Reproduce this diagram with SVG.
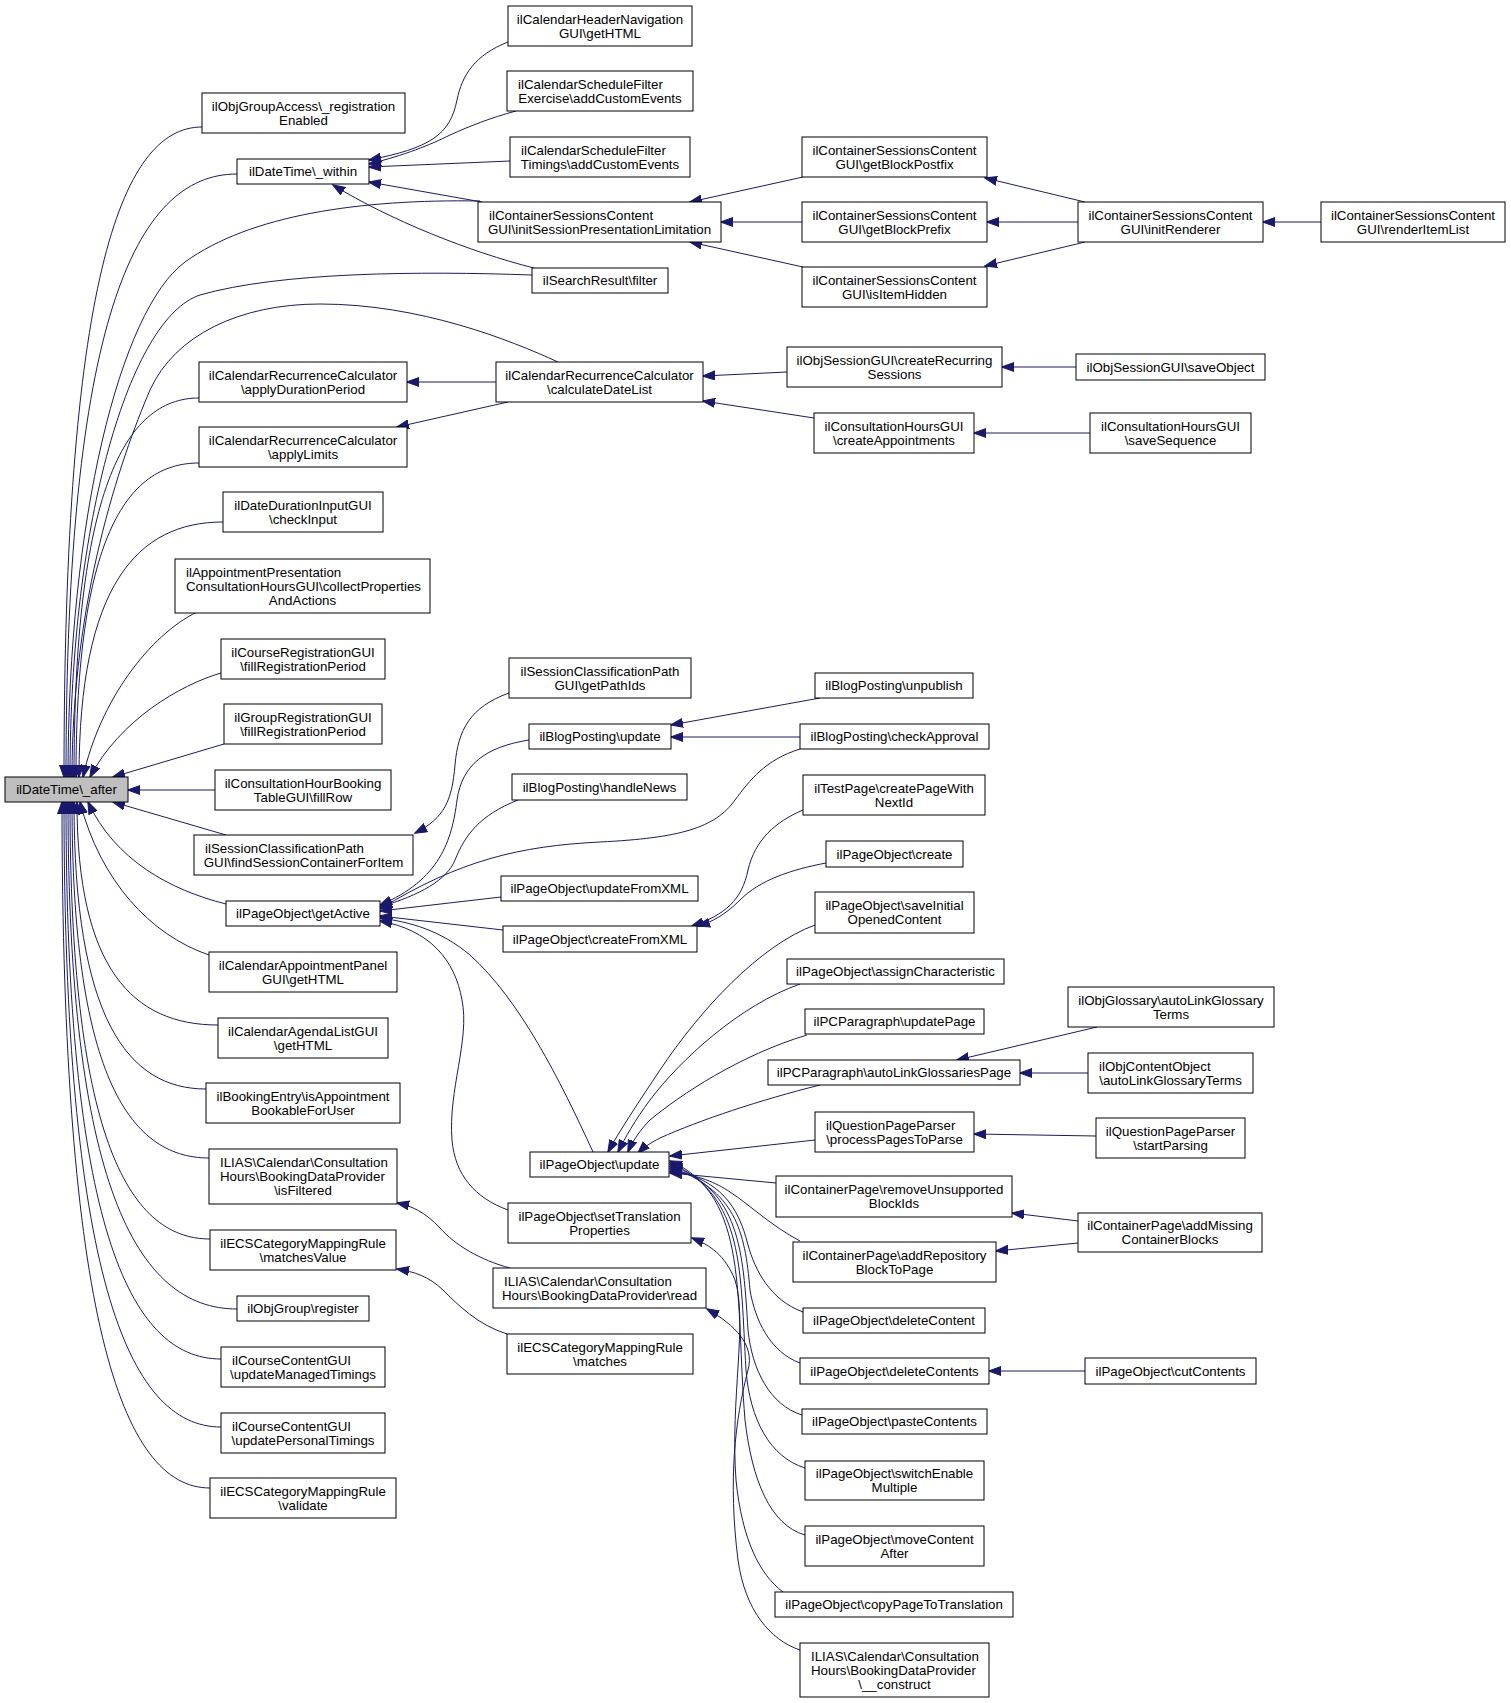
<svg xmlns="http://www.w3.org/2000/svg" width="1511" height="1703" viewBox="0 0 1511 1703">
<defs>
<marker id="arr" markerWidth="13" markerHeight="10" refX="12" refY="5" orient="auto" markerUnits="userSpaceOnUse"><path d="M0,0.5 L12.5,5 L0,9.5 Z" fill="#191970" stroke="#191970" stroke-width="1"/></marker>
</defs>
<style>
.n rect{fill:#ffffff;stroke:#000000;stroke-width:1}
.root rect{fill:#bfbfbf;stroke:#000000;stroke-width:1}
text{font-family:"Liberation Sans",Arial,Helvetica,sans-serif;font-size:13.3px;fill:#000000}
.c{text-anchor:middle}
#edges path{fill:none;stroke:#191970;stroke-width:1;marker-end:url(#arr)}
</style>
<rect x="0" y="0" width="1511" height="1703" fill="#ffffff"/>
<g id="edges">
<path d="M202,127 C119,127 64,289 64,777"/>
<path d="M237,174 C134,174 66,325 66,777"/>
<path d="M480,201 C360,199 250,215 185,262 C120,310 68,520 68,777"/>
<path d="M532,275 C420,271 280,272 200,295 C130,318 70,520 70,777"/>
<path d="M558,362 C510,340 420,304 320,304 C240,304 175,335 150,390 C120,460 72,600 72,777"/>
<path d="M199,398 C124,398 74,493 74,777"/>
<path d="M199,463 C125,463 76,541 76,777"/>
<path d="M223,522 C137,522 79,586 79,777"/>
<path d="M197,612 C150,635 100,700 83,777"/>
<path d="M221,673 C180,685 120,720 90,777"/>
<path d="M224,744 L113,777"/>
<path d="M215,790 L128,790"/>
<path d="M226,835 L113,802"/>
<path d="M226,904 C170,890 115,860 88,802"/>
<path d="M209,955 C150,935 100,880 80,802"/>
<path d="M218,1025 C133,1025 77,969 77,802"/>
<path d="M206,1089 C127,1089 74,1017 74,802"/>
<path d="M209,1158 C127,1158 72,1069 72,802"/>
<path d="M210,1239 C126,1239 70,1130 70,802"/>
<path d="M237,1309 C136,1309 68,1182 68,802"/>
<path d="M221,1359 C128,1359 66,1220 66,802"/>
<path d="M221,1427 C127,1427 64,1271 64,802"/>
<path d="M210,1488 C121,1488 62,1316 62,802"/>
<path d="M508,42 C475,55 462,75 457,100 C450,135 430,148 369,160"/>
<path d="M516,111 C490,118 470,126 450,135 C430,145 405,155 369,164"/>
<path d="M510,161 L369,167"/>
<path d="M482,202 L369,182"/>
<path d="M534,268 C470,252 390,220 333,185"/>
<path d="M803,177 L690,202"/>
<path d="M802,222 L721,222"/>
<path d="M803,267 L690,242"/>
<path d="M1085,202 L985,178"/>
<path d="M1078,222 L987,222"/>
<path d="M1085,242 L985,266"/>
<path d="M1321,222 L1263,222"/>
<path d="M496,382 L407,382"/>
<path d="M508,402 L397,427"/>
<path d="M787,372 L703,376"/>
<path d="M814,418 L703,401"/>
<path d="M1076,367 L1002,367"/>
<path d="M1090,433 L974,433"/>
<path d="M509,693 C470,707 458,730 455,765 C452,800 445,818 415,833"/>
<path d="M529,740 C485,747 462,765 457,800 C452,840 440,880 380,905"/>
<path d="M518,800 C480,815 465,835 455,860 C447,880 420,895 380,907"/>
<path d="M800,749 C765,760 750,780 735,800 C715,828 680,838 600,842 C520,846 460,860 380,909"/>
<path d="M501,897 L380,911"/>
<path d="M503,930 L380,916"/>
<path d="M593,1152 C560,1080 520,1000 470,955 C440,930 410,922 380,918"/>
<path d="M508,1210 C475,1198 455,1175 452,1140 C448,1090 470,1040 462,1000 C455,960 430,930 380,921"/>
<path d="M820,698 L671,725"/>
<path d="M800,737 L671,737"/>
<path d="M803,810 C775,822 755,840 748,870 C742,900 725,915 692,926"/>
<path d="M826,863 C790,870 760,880 740,900 C725,915 712,922 698,926"/>
<path d="M815,925 C760,945 700,1010 660,1070 C640,1100 620,1130 608,1152"/>
<path d="M800,984 C740,1005 680,1060 650,1100 C635,1120 625,1138 618,1152"/>
<path d="M807,1035 C740,1055 680,1095 650,1120 C640,1130 632,1142 628,1152"/>
<path d="M820,1085 C760,1100 700,1120 660,1138 C650,1143 643,1148 638,1153"/>
<path d="M815,1140 L670,1156"/>
<path d="M776,1183 L670,1173"/>
<path d="M800,1241 C770,1225 750,1205 730,1192 C715,1182 700,1176 670,1171"/>
<path d="M803,1312 C770,1300 755,1270 748,1245 C738,1205 720,1180 670,1169"/>
<path d="M800,1363 C770,1352 755,1320 750,1290 C745,1230 735,1190 670,1167"/>
<path d="M802,1415 C770,1405 752,1370 748,1330 C743,1250 740,1190 670,1165"/>
<path d="M805,1468 C770,1457 750,1420 746,1370 C740,1270 745,1195 670,1163"/>
<path d="M805,1535 C770,1525 752,1480 745,1420 C735,1300 750,1195 670,1161"/>
<path d="M783,1592 C760,1575 742,1540 736,1480 C730,1400 748,1320 735,1280 C725,1255 710,1245 692,1238"/>
<path d="M800,1650 C770,1640 745,1610 738,1560 C728,1480 735,1420 748,1370 C755,1345 735,1325 707,1309"/>
<path d="M510,1268 C480,1260 455,1245 440,1228 C425,1212 412,1206 397,1203"/>
<path d="M507,1334 C478,1325 458,1305 443,1290 C428,1276 415,1272 397,1269"/>
<path d="M1097,1027 L957,1060"/>
<path d="M1088,1073 L1020,1073"/>
<path d="M1096,1136 L974,1134"/>
<path d="M1078,1221 L1012,1213"/>
<path d="M1078,1243 L996,1251"/>
<path d="M1085,1371 L989,1371"/>
</g>
<g id="n_after" class="root"><rect x="5" y="777" width="123" height="25"/><text class="c" x="66.5" y="794">ilDateTime\_after</text></g>
<g id="n_a1" class="n"><rect x="202" y="93" width="203" height="40"/><text class="c" x="303.5" y="110.5">ilObjGroupAccess\_registration</text><text class="c" x="303.5" y="124.5">Enabled</text></g>
<g id="n_a2" class="n"><rect x="237" y="159" width="132" height="25"/><text class="c" x="303" y="176">ilDateTime\_within</text></g>
<g id="n_a3" class="n"><rect x="199" y="362" width="208" height="40"/><text class="c" x="303" y="379.5">ilCalendarRecurrenceCalculator</text><text class="c" x="303" y="393.5">\applyDurationPeriod</text></g>
<g id="n_a4" class="n"><rect x="199" y="427" width="208" height="40"/><text class="c" x="303" y="444.5">ilCalendarRecurrenceCalculator</text><text class="c" x="303" y="458.5">\applyLimits</text></g>
<g id="n_a5" class="n"><rect x="223" y="492" width="160" height="40"/><text class="c" x="303" y="509.5">ilDateDurationInputGUI</text><text class="c" x="303" y="523.5">\checkInput</text></g>
<g id="n_a6" class="n"><rect x="175" y="559" width="255" height="54"/><text x="186" y="576.5">ilAppointmentPresentation</text><text x="186" y="590.5">ConsultationHoursGUI\collectProperties</text><text class="c" x="302.5" y="604.5">AndActions</text></g>
<g id="n_a7" class="n"><rect x="221" y="639" width="164" height="40"/><text class="c" x="303" y="656.5">ilCourseRegistrationGUI</text><text class="c" x="303" y="670.5">\fillRegistrationPeriod</text></g>
<g id="n_a8" class="n"><rect x="224" y="704" width="158" height="40"/><text class="c" x="303" y="721.5">ilGroupRegistrationGUI</text><text class="c" x="303" y="735.5">\fillRegistrationPeriod</text></g>
<g id="n_a9" class="n"><rect x="215" y="770" width="176" height="40"/><text class="c" x="303" y="787.5">ilConsultationHourBooking</text><text class="c" x="303" y="801.5">TableGUI\fillRow</text></g>
<g id="n_a10" class="n"><rect x="194" y="835" width="219" height="40"/><text x="205" y="852.5">ilSessionClassificationPath</text><text class="c" x="303.5" y="866.5">GUI\findSessionContainerForItem</text></g>
<g id="n_a11" class="n"><rect x="226" y="901" width="154" height="25"/><text class="c" x="303" y="918">ilPageObject\getActive</text></g>
<g id="n_a12" class="n"><rect x="209" y="952" width="188" height="40"/><text class="c" x="303" y="969.5">ilCalendarAppointmentPanel</text><text class="c" x="303" y="983.5">GUI\getHTML</text></g>
<g id="n_a13" class="n"><rect x="218" y="1018" width="170" height="40"/><text class="c" x="303" y="1035.5">ilCalendarAgendaListGUI</text><text class="c" x="303" y="1049.5">\getHTML</text></g>
<g id="n_a14" class="n"><rect x="206" y="1083" width="194" height="40"/><text class="c" x="303" y="1100.5">ilBookingEntry\isAppointment</text><text class="c" x="303" y="1114.5">BookableForUser</text></g>
<g id="n_a15" class="n"><rect x="209" y="1149" width="188" height="55"/><text x="220" y="1167">ILIAS\Calendar\Consultation</text><text x="220" y="1181">Hours\BookingDataProvider</text><text class="c" x="303" y="1195">\isFiltered</text></g>
<g id="n_a16" class="n"><rect x="210" y="1230" width="186" height="40"/><text class="c" x="303" y="1247.5">ilECSCategoryMappingRule</text><text class="c" x="303" y="1261.5">\matchesValue</text></g>
<g id="n_a17" class="n"><rect x="237" y="1296" width="132" height="25"/><text class="c" x="303" y="1313">ilObjGroup\register</text></g>
<g id="n_a18" class="n"><rect x="221" y="1347" width="164" height="40"/><text x="232" y="1364.5">ilCourseContentGUI</text><text class="c" x="303" y="1378.5">\updateManagedTimings</text></g>
<g id="n_a19" class="n"><rect x="221" y="1413" width="164" height="40"/><text x="232" y="1430.5">ilCourseContentGUI</text><text class="c" x="303" y="1444.5">\updatePersonalTimings</text></g>
<g id="n_a20" class="n"><rect x="210" y="1478" width="186" height="40"/><text class="c" x="303" y="1495.5">ilECSCategoryMappingRule</text><text class="c" x="303" y="1509.5">\validate</text></g>
<g id="n_b1" class="n"><rect x="508" y="6" width="184" height="40"/><text class="c" x="600" y="23.5">ilCalendarHeaderNavigation</text><text class="c" x="600" y="37.5">GUI\getHTML</text></g>
<g id="n_b2" class="n"><rect x="507" y="71" width="186" height="40"/><text x="518" y="88.5">ilCalendarScheduleFilter</text><text class="c" x="600" y="102.5">Exercise\addCustomEvents</text></g>
<g id="n_b3" class="n"><rect x="510" y="137" width="180" height="40"/><text x="521" y="154.5">ilCalendarScheduleFilter</text><text class="c" x="600" y="168.5">Timings\addCustomEvents</text></g>
<g id="n_b4" class="n"><rect x="478" y="202" width="243" height="40"/><text x="489" y="219.5">ilContainerSessionsContent</text><text class="c" x="599.5" y="233.5">GUI\initSessionPresentationLimitation</text></g>
<g id="n_b5" class="n"><rect x="532" y="268" width="136" height="25"/><text class="c" x="600" y="285">ilSearchResult\filter</text></g>
<g id="n_b6" class="n"><rect x="496" y="362" width="207" height="40"/><text class="c" x="599.5" y="379.5">ilCalendarRecurrenceCalculator</text><text class="c" x="599.5" y="393.5">\calculateDateList</text></g>
<g id="n_b7" class="n"><rect x="509" y="658" width="182" height="40"/><text class="c" x="600" y="675.5">ilSessionClassificationPath</text><text class="c" x="600" y="689.5">GUI\getPathIds</text></g>
<g id="n_b8" class="n"><rect x="529" y="724" width="142" height="25"/><text class="c" x="600" y="741">ilBlogPosting\update</text></g>
<g id="n_b9" class="n"><rect x="512" y="774" width="175" height="26"/><text class="c" x="599.5" y="791.5">ilBlogPosting\handleNews</text></g>
<g id="n_b10" class="n"><rect x="501" y="876" width="197" height="25"/><text class="c" x="599.5" y="893">ilPageObject\updateFromXML</text></g>
<g id="n_b11" class="n"><rect x="503" y="926" width="194" height="26"/><text class="c" x="600" y="943.5">ilPageObject\createFromXML</text></g>
<g id="n_b12" class="n"><rect x="530" y="1152" width="139" height="25"/><text class="c" x="599.5" y="1169">ilPageObject\update</text></g>
<g id="n_b13" class="n"><rect x="508" y="1203" width="183" height="40"/><text class="c" x="599.5" y="1220.5">ilPageObject\setTranslation</text><text class="c" x="599.5" y="1234.5">Properties</text></g>
<g id="n_b14" class="n"><rect x="493" y="1268" width="213" height="40"/><text x="504" y="1285.5">ILIAS\Calendar\Consultation</text><text class="c" x="599.5" y="1299.5">Hours\BookingDataProvider\read</text></g>
<g id="n_b15" class="n"><rect x="507" y="1334" width="186" height="40"/><text class="c" x="600" y="1351.5">ilECSCategoryMappingRule</text><text class="c" x="600" y="1365.5">\matches</text></g>
<g id="n_c1" class="n"><rect x="802" y="137" width="185" height="40"/><text class="c" x="894.5" y="154.5">ilContainerSessionsContent</text><text class="c" x="894.5" y="168.5">GUI\getBlockPostfix</text></g>
<g id="n_c2" class="n"><rect x="802" y="202" width="185" height="40"/><text class="c" x="894.5" y="219.5">ilContainerSessionsContent</text><text class="c" x="894.5" y="233.5">GUI\getBlockPrefix</text></g>
<g id="n_c3" class="n"><rect x="802" y="267" width="185" height="40"/><text class="c" x="894.5" y="284.5">ilContainerSessionsContent</text><text class="c" x="894.5" y="298.5">GUI\isItemHidden</text></g>
<g id="n_c4" class="n"><rect x="787" y="347" width="215" height="40"/><text class="c" x="894.5" y="364.5">ilObjSessionGUI\createRecurring</text><text class="c" x="894.5" y="378.5">Sessions</text></g>
<g id="n_c5" class="n"><rect x="814" y="413" width="160" height="40"/><text class="c" x="894" y="430.5">ilConsultationHoursGUI</text><text class="c" x="894" y="444.5">\createAppointments</text></g>
<g id="n_c6" class="n"><rect x="815" y="673" width="158" height="25"/><text class="c" x="894" y="690">ilBlogPosting\unpublish</text></g>
<g id="n_c7" class="n"><rect x="800" y="724" width="189" height="25"/><text class="c" x="894.5" y="741">ilBlogPosting\checkApproval</text></g>
<g id="n_c8" class="n"><rect x="803" y="775" width="182" height="40"/><text class="c" x="894" y="792.5">ilTestPage\createPageWith</text><text class="c" x="894" y="806.5">NextId</text></g>
<g id="n_c9" class="n"><rect x="826" y="841" width="137" height="26"/><text class="c" x="894.5" y="858.5">ilPageObject\create</text></g>
<g id="n_c10" class="n"><rect x="815" y="892" width="159" height="41"/><text class="c" x="894.5" y="910">ilPageObject\saveInitial</text><text class="c" x="894.5" y="924">OpenedContent</text></g>
<g id="n_c11" class="n"><rect x="787" y="959" width="217" height="25"/><text class="c" x="895.5" y="976">ilPageObject\assignCharacteristic</text></g>
<g id="n_c12" class="n"><rect x="805" y="1009" width="179" height="25"/><text class="c" x="894.5" y="1026">ilPCParagraph\updatePage</text></g>
<g id="n_c13" class="n"><rect x="768" y="1060" width="252" height="25"/><text class="c" x="894" y="1077">ilPCParagraph\autoLinkGlossariesPage</text></g>
<g id="n_c14" class="n"><rect x="815" y="1112" width="159" height="40"/><text x="826" y="1129.5">ilQuestionPageParser</text><text class="c" x="894.5" y="1143.5">\processPagesToParse</text></g>
<g id="n_c15" class="n"><rect x="776" y="1176" width="236" height="41"/><text class="c" x="894" y="1194">ilContainerPage\removeUnsupported</text><text class="c" x="894" y="1208">BlockIds</text></g>
<g id="n_c16" class="n"><rect x="793" y="1242" width="203" height="40"/><text class="c" x="894.5" y="1259.5">ilContainerPage\addRepository</text><text class="c" x="894.5" y="1273.5">BlockToPage</text></g>
<g id="n_c17" class="n"><rect x="803" y="1308" width="182" height="25"/><text class="c" x="894" y="1325">ilPageObject\deleteContent</text></g>
<g id="n_c18" class="n"><rect x="800" y="1358" width="189" height="26"/><text class="c" x="894.5" y="1375.5">ilPageObject\deleteContents</text></g>
<g id="n_c19" class="n"><rect x="802" y="1409" width="185" height="25"/><text class="c" x="894.5" y="1426">ilPageObject\pasteContents</text></g>
<g id="n_c20" class="n"><rect x="805" y="1461" width="179" height="39"/><text class="c" x="894.5" y="1478">ilPageObject\switchEnable</text><text class="c" x="894.5" y="1492">Multiple</text></g>
<g id="n_c21" class="n"><rect x="805" y="1526" width="179" height="40"/><text class="c" x="894.5" y="1543.5">ilPageObject\moveContent</text><text class="c" x="894.5" y="1557.5">After</text></g>
<g id="n_c22" class="n"><rect x="775" y="1592" width="238" height="25"/><text class="c" x="894" y="1609">ilPageObject\copyPageToTranslation</text></g>
<g id="n_c23" class="n"><rect x="800" y="1643" width="189" height="54"/><text x="811" y="1660.5">ILIAS\Calendar\Consultation</text><text x="811" y="1674.5">Hours\BookingDataProvider</text><text class="c" x="894.5" y="1688.5">\__construct</text></g>
<g id="n_d1" class="n"><rect x="1078" y="202" width="185" height="40"/><text class="c" x="1170.5" y="219.5">ilContainerSessionsContent</text><text class="c" x="1170.5" y="233.5">GUI\initRenderer</text></g>
<g id="n_d2" class="n"><rect x="1076" y="354" width="189" height="26"/><text class="c" x="1170.5" y="371.5">ilObjSessionGUI\saveObject</text></g>
<g id="n_d3" class="n"><rect x="1090" y="413" width="161" height="40"/><text class="c" x="1170.5" y="430.5">ilConsultationHoursGUI</text><text class="c" x="1170.5" y="444.5">\saveSequence</text></g>
<g id="n_d4" class="n"><rect x="1068" y="987" width="206" height="40"/><text class="c" x="1171" y="1004.5">ilObjGlossary\autoLinkGlossary</text><text class="c" x="1171" y="1018.5">Terms</text></g>
<g id="n_d5" class="n"><rect x="1088" y="1053" width="165" height="40"/><text x="1099" y="1070.5">ilObjContentObject</text><text class="c" x="1170.5" y="1084.5">\autoLinkGlossaryTerms</text></g>
<g id="n_d6" class="n"><rect x="1096" y="1118" width="149" height="40"/><text class="c" x="1170.5" y="1135.5">ilQuestionPageParser</text><text class="c" x="1170.5" y="1149.5">\startParsing</text></g>
<g id="n_d7" class="n"><rect x="1078" y="1213" width="184" height="39"/><text class="c" x="1170" y="1230">ilContainerPage\addMissing</text><text class="c" x="1170" y="1244">ContainerBlocks</text></g>
<g id="n_d8" class="n"><rect x="1085" y="1358" width="171" height="26"/><text class="c" x="1170.5" y="1375.5">ilPageObject\cutContents</text></g>
<g id="n_e1" class="n"><rect x="1321" y="202" width="184" height="40"/><text class="c" x="1413" y="219.5">ilContainerSessionsContent</text><text class="c" x="1413" y="233.5">GUI\renderItemList</text></g>
</svg>
